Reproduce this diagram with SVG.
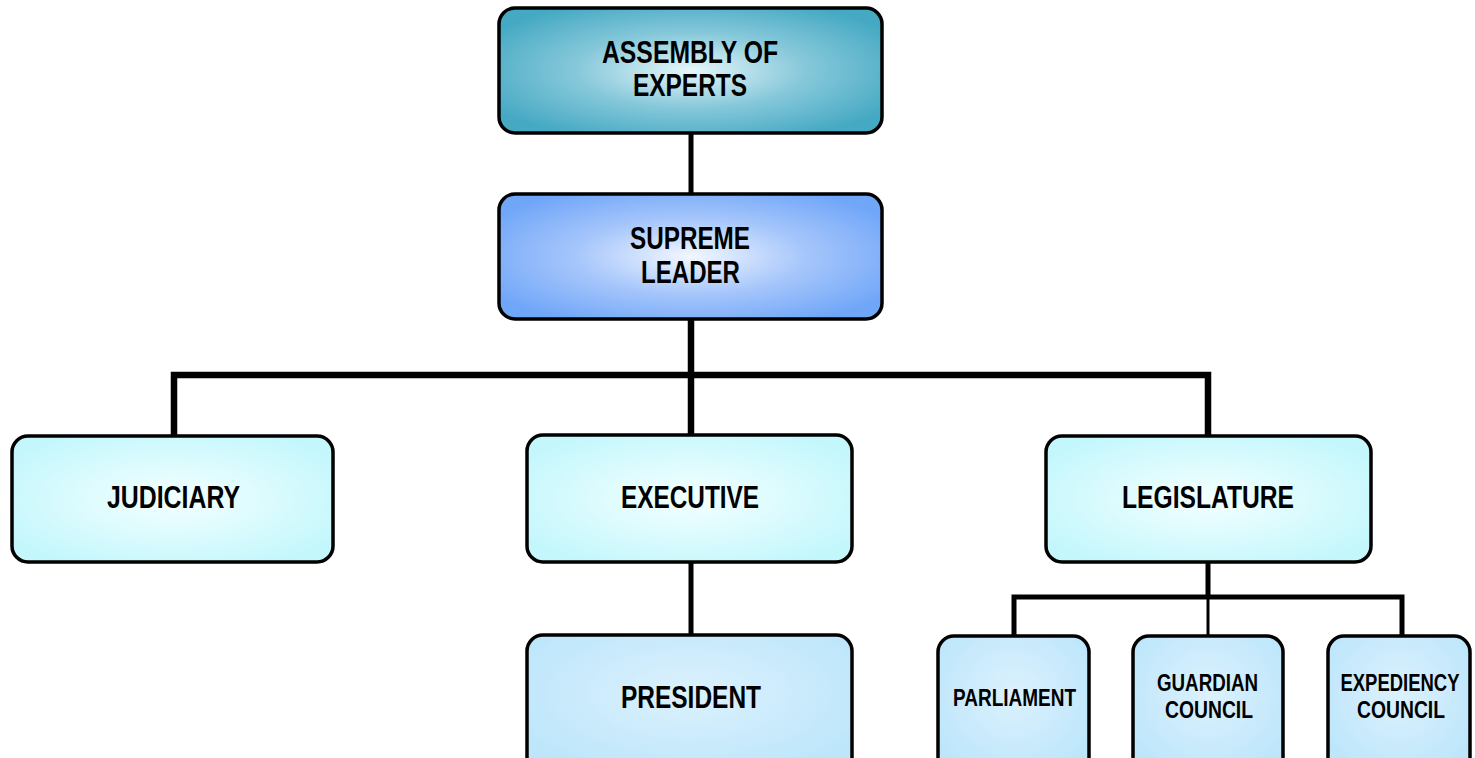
<svg xmlns="http://www.w3.org/2000/svg" width="1475" height="758" viewBox="0 0 1475 758">
<defs>
<radialGradient id="gA" cx="50%" cy="50%" r="60%"><stop offset="0" stop-color="#e6f6fa"/><stop offset="0.5" stop-color="#86c8da"/><stop offset="1" stop-color="#45a9c3"/></radialGradient>
<radialGradient id="gS" cx="50%" cy="50%" r="60%"><stop offset="0" stop-color="#f2f7ff"/><stop offset="0.5" stop-color="#a6c6fb"/><stop offset="1" stop-color="#70a6f8"/></radialGradient>
<radialGradient id="gM" cx="50%" cy="50%" r="60%"><stop offset="0" stop-color="#f4ffff"/><stop offset="1" stop-color="#c3f7fc"/></radialGradient>
<radialGradient id="gB" cx="50%" cy="40%" r="60%"><stop offset="0" stop-color="#dcf1fd"/><stop offset="1" stop-color="#bde6fb"/></radialGradient>
</defs>
<style>
.box{stroke:#000;stroke-width:3.5}
.t{font-family:"Liberation Sans",Arial,sans-serif;font-weight:bold;font-size:31px;fill:#000;text-anchor:middle}
.s{font-size:24px}
.c{fill:none;stroke:#000;stroke-linejoin:miter}
</style>
<g id="connectors">
<path class="c" d="M691 133V194" stroke-width="5"/>
<path class="c" d="M691 319V435" stroke-width="6.5"/>
<path class="c" d="M174 436V375H1208V436" stroke-width="6.5"/>
<path class="c" d="M691 562V635" stroke-width="5"/>
<path class="c" d="M1208 562V597" stroke-width="5"/>
<path class="c" d="M1014 636V597H1402V636" stroke-width="5"/>
<path class="c" d="M1208 597V636" stroke-width="3"/>
</g>
<g id="assembly"><rect class="box" x="499" y="8" width="383" height="125" rx="16" fill="url(#gA)"/>
<text class="t" x="690" y="63" textLength="176" lengthAdjust="spacingAndGlyphs">ASSEMBLY OF</text>
<text class="t" x="690" y="96" textLength="114" lengthAdjust="spacingAndGlyphs">EXPERTS</text></g>
<g id="supreme"><rect class="box" x="499" y="194" width="383" height="125" rx="16" fill="url(#gS)"/>
<text class="t" x="690" y="249" textLength="120" lengthAdjust="spacingAndGlyphs">SUPREME</text>
<text class="t" x="690.5" y="283" textLength="99" lengthAdjust="spacingAndGlyphs">LEADER</text></g>
<g id="judiciary"><rect class="box" x="12" y="436" width="321" height="126" rx="16" fill="url(#gM)"/>
<text class="t" x="173.5" y="508" textLength="133" lengthAdjust="spacingAndGlyphs">JUDICIARY</text></g>
<g id="executive"><rect class="box" x="527" y="435" width="325" height="127" rx="16" fill="url(#gM)"/>
<text class="t" x="690" y="508" textLength="138" lengthAdjust="spacingAndGlyphs">EXECUTIVE</text></g>
<g id="legislature"><rect class="box" x="1046" y="436" width="325" height="126" rx="16" fill="url(#gM)"/>
<text class="t" x="1208" y="508" textLength="172" lengthAdjust="spacingAndGlyphs">LEGISLATURE</text></g>
<g id="president"><rect class="box" x="527" y="635" width="325" height="145" rx="16" fill="url(#gB)"/>
<text class="t" x="691" y="708" textLength="140" lengthAdjust="spacingAndGlyphs">PRESIDENT</text></g>
<g id="parliament"><rect class="box" x="938" y="636" width="151" height="145" rx="16" fill="url(#gB)"/>
<text class="t s" x="1014.5" y="706" textLength="123" lengthAdjust="spacingAndGlyphs">PARLIAMENT</text></g>
<g id="guardian"><rect class="box" x="1133" y="636" width="150" height="145" rx="16" fill="url(#gB)"/>
<text class="t s" x="1207.5" y="691" textLength="101" lengthAdjust="spacingAndGlyphs">GUARDIAN</text>
<text class="t s" x="1209" y="718" textLength="88" lengthAdjust="spacingAndGlyphs">COUNCIL</text></g>
<g id="expediency"><rect class="box" x="1328" y="636" width="142" height="145" rx="16" fill="url(#gB)"/>
<text class="t s" transform="translate(1400 691) scale(0.77 1)" x="0" y="0">EXPEDIENCY</text>
<text class="t s" x="1401" y="718" textLength="88" lengthAdjust="spacingAndGlyphs">COUNCIL</text></g>
</svg>
